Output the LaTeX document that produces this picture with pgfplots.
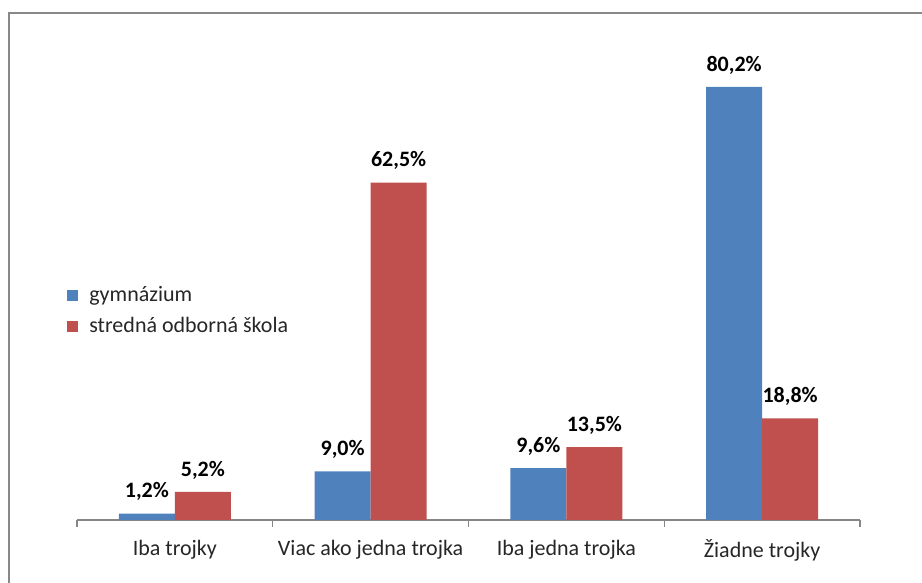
\documentclass[border=0pt]{standalone}
\usepackage{fontspec}
\setmainfont{Carlito}
\usepackage{pgfplots}
\pgfplotsset{compat=1.18}
\definecolor{sblue}{HTML}{4F81BD}
\definecolor{sred}{HTML}{C0504D}
\definecolor{axgray}{HTML}{868686}
\definecolor{framegray}{HTML}{888888}
\begin{document}
\fontsize{11pt}{13pt}\selectfont
\begin{tikzpicture}
\path[use as bounding box] (0,0) rectangle (461pt,291.5pt);
\draw[framegray, line width=1.3pt] (4.5pt,0) -- (4.5pt,285pt) -- (461pt,285pt);
\begin{axis}[
  at={(38.5pt,31.5pt)}, anchor=south west,
  scale only axis, width=391.5pt, height=243pt,
  xmin=-0.5, xmax=3.5, ymin=0, ymax=90,
  ybar=0pt, bar width=28pt,
  axis y line=none,
  axis x line*=bottom,
  x axis line style={axgray, line width=0.7pt},
  xtick={0,1,2,3},
  xticklabels={Iba trojky, Viac ako jedna trojka, Iba jedna trojka, Žiadne trojky},
  major tick length=0pt,
  extra x ticks={-0.5,0.5,1.5,2.5,3.5},
  extra x tick labels={},
  extra x tick style={major tick length=3.5pt, tick align=outside, tick style={axgray, line width=0.7pt}},
  xticklabel style={font=\fontsize{11pt}{13pt}\selectfont, yshift=-6pt, text=black!85},
  /pgf/number format/assume math mode=true,
  nodes near coords={\pgfmathprintnumber[fixed,fixed zerofill,precision=1,use comma]{\pgfplotspointmeta}\%},
  every node near coord/.append style={font=\bfseries\fontsize{11pt}{13pt}\selectfont, yshift=2.5pt, text=black},
  legend image code/.code={\fill[#1] (0pt,-2.75pt) rectangle (5.5pt,2.75pt); \path (9pt,0pt);},
  legend cell align=left,
  legend style={draw=none, fill=none, at={(-0.0128,0.43)}, anchor=west, inner sep=0pt,
    row sep=2pt, font=\fontsize{11pt}{13pt}\selectfont, text=black!85},
]
\addplot[fill=sblue, draw=none] coordinates {(0,1.2) (1,9.0) (2,9.6) (3,80.2)};
\addplot[fill=sred, draw=none] coordinates {(0,5.2) (1,62.5) (2,13.5) (3,18.8)};
\legend{gymnázium, stredná odborná škola}
\end{axis}
\end{tikzpicture}
\end{document}
